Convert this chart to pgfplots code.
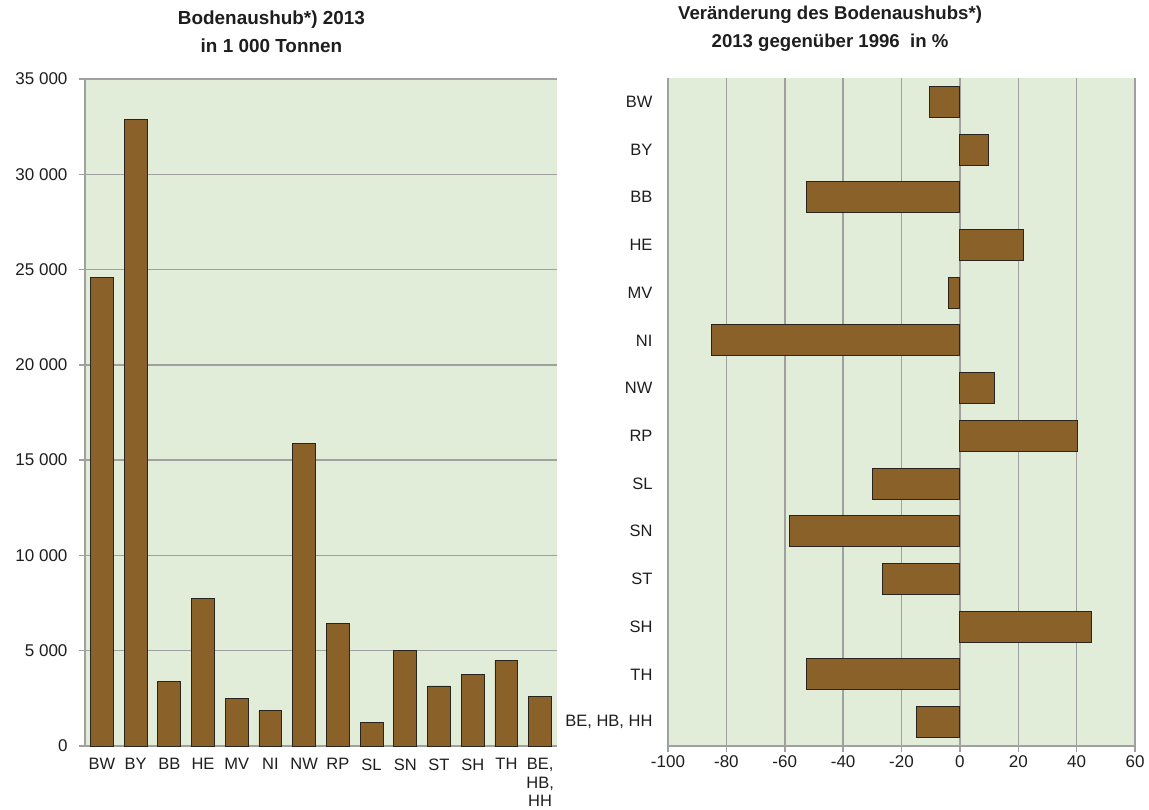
\documentclass[border=0pt]{standalone}
\usepackage{pgfplots}
\pgfplotsset{compat=1.18}
\usepackage{fontspec}
\setmainfont{Liberation Sans}
\definecolor{bgcol}{RGB}{225,237,217}
\definecolor{barcol}{RGB}{139,97,42}
\definecolor{edgecol}{RGB}{40,36,30}
\definecolor{gridcol}{RGB}{160,160,160}
\definecolor{txtcol}{RGB}{30,30,30}
\newcommand\tickfont{\fontsize{17}{20}\selectfont}
\begin{document}
\begin{tikzpicture}
\useasboundingbox (0,0) rectangle (1149pt,809pt);
% left: Bodenaushub 2013
\begin{axis}[
  at={(85pt,63pt)}, anchor=south west,
  scale only axis, width=472pt, height=667pt,
  ybar, bar width=0.68,
  xmin=-0.5, xmax=13.5, ymin=0, ymax=35000,
  scaled y ticks=false,
  axis background/.style={fill=bgcol},
  axis x line=bottom, axis y line=left,
  axis line style={-, gridcol, line width=1.5pt},
  xtick={0,...,13},
  xticklabels={BW,BY,BB,HE,MV,NI,NW,RP,SL,SN,ST,SH,TH,{BE,\\HB,\\HH}},
  xticklabel style={align=center, font=\fontsize{16.5}{18.5}\selectfont, text=txtcol,
    anchor=north, yshift=-3pt},
  xtick style={draw=none},
  ytick={0,5000,...,35000},
  yticklabels={0,5 000,10 000,15 000,20 000,25 000,30 000,35 000},
  yticklabel style={font=\tickfont, text=txtcol, xshift=-8pt},
  ytick style={gridcol, line width=1.5pt},
  tick align=outside, major tick length=6pt,
  ymajorgrids, major grid style={gridcol, line width=1.5pt},
  title={Bodenaushub*) 2013\\in 1 000 Tonnen},
  title style={font=\bfseries\fontsize{18.9}{28}\selectfont, text=txtcol, align=center,
    at={(axis description cs:0.395,1)}, anchor=south, yshift=17pt},
]
\addplot[fill=barcol, draw=edgecol, line width=0.9pt] coordinates {
  (0,24600) (1,32900) (2,3400) (3,7740) (4,2490) (5,1850) (6,15850)
  (7,6440) (8,1240) (9,5010) (10,3150) (11,3760) (12,4510) (13,2580)};
\end{axis}
% right: Veraenderung 2013 gegenueber 1996
\begin{axis}[
  at={(668pt,63pt)}, anchor=south west,
  scale only axis, width=467pt, height=668pt,
  xbar, bar width=0.65, y dir=reverse,
  xmin=-100, xmax=60, ymin=-0.5, ymax=13.5,
  axis background/.style={fill=bgcol},
  axis x line=bottom, axis y line=left,
  x axis line style={-, gridcol, line width=1.5pt},
  y axis line style={draw=none},
  ytick={0,...,13},
  yticklabels={BW,BY,BB,HE,MV,NI,NW,RP,SL,SN,ST,SH,TH,{BE, HB, HH}},
  yticklabel style={font=\fontsize{16.5}{20}\selectfont, text=txtcol, xshift=-6pt},
  ytick style={draw=none},
  xtick={-100,-80,...,60},
  xticklabels={-100,-80,-60,-40,-20,0,20,40,60},
  xticklabel style={font=\tickfont, text=txtcol},
  xtick style={gridcol, line width=1.5pt},
  tick align=outside, major tick length=6pt,
  xmajorgrids, major grid style={gridcol, line width=1.5pt},
  title={Veränderung des Bodenaushubs*)\\2013 gegenüber 1996~~in \%},
  title style={font=\bfseries\fontsize{18.6}{28}\selectfont, text=txtcol, align=center,
    at={(axis description cs:0.347,1)}, anchor=south, yshift=17pt},
]
\addplot[fill=barcol, draw=edgecol, line width=0.9pt] coordinates {
  (-10.5,0) (9.7,1) (-52.5,2) (21.9,3) (-3.9,4) (-85.2,5) (11.9,6)
  (40.4,7) (-30.1,8) (-58.3,9) (-26.5,10) (45.0,11) (-52.5,12) (-14.8,13)};
\end{axis}
\end{tikzpicture}
\end{document}
